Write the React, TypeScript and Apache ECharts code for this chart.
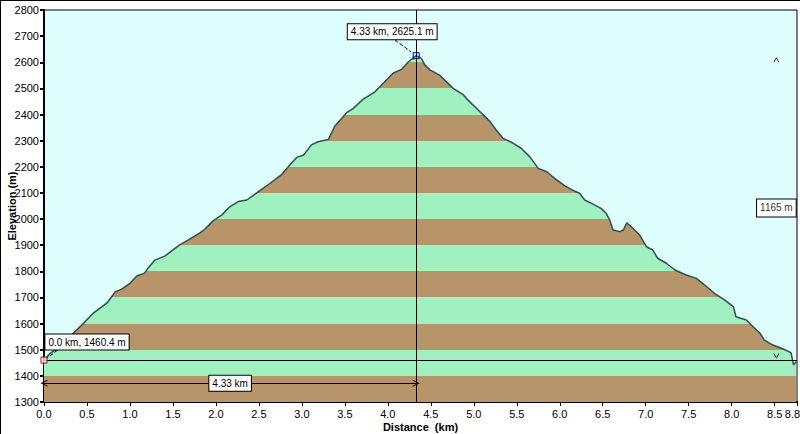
import React, { useEffect, useRef } from 'react';
import * as echarts from 'echarts';

// Distance along the route (km)
const distanceKm = [0, 0.07, 0.19, 0.34, 0.46, 0.57, 0.73, 0.83, 0.9, 1.0, 1.08, 1.17, 1.21, 1.29, 1.41, 1.5, 1.58, 1.68, 1.81, 1.87, 1.97, 2.07, 2.16, 2.26, 2.36, 2.47, 2.63, 2.76, 2.86, 2.94, 3.02, 3.11, 3.19, 3.31, 3.38, 3.52, 3.6, 3.71, 3.85, 3.91, 4.06, 4.16, 4.24, 4.29, 4.33, 4.39, 4.43, 4.49, 4.6, 4.68, 4.76, 4.88, 4.93, 5.03, 5.13, 5.19, 5.26, 5.34, 5.46, 5.55, 5.65, 5.75, 5.85, 5.94, 6.06, 6.15, 6.23, 6.29, 6.37, 6.48, 6.54, 6.58, 6.62, 6.7, 6.74, 6.78, 6.85, 6.93, 7.01, 7.08, 7.14, 7.24, 7.34, 7.47, 7.59, 7.71, 7.8, 7.92, 8.02, 8.05, 8.17, 8.25, 8.33, 8.38, 8.48, 8.6, 8.69, 8.72, 8.75];
// Elevation (m)
const elevationM = [1460.4, 1486, 1512, 1563, 1601, 1639, 1678, 1722, 1731, 1754, 1782, 1793, 1812, 1843, 1859, 1882, 1901, 1920, 1946, 1961, 1994, 2016, 2047, 2067, 2073, 2099, 2137, 2169, 2207, 2236, 2245, 2284, 2296, 2305, 2354, 2407, 2424, 2458, 2487, 2507, 2558, 2573, 2602, 2615, 2625.1, 2615, 2590, 2571, 2551, 2526, 2500, 2475, 2456, 2424, 2392, 2373, 2341, 2309, 2290, 2271, 2239, 2194, 2181, 2156, 2127, 2111, 2099, 2073, 2060, 2041, 2022, 1997, 1958, 1952, 1958, 1986, 1965, 1939, 1894, 1882, 1850, 1831, 1805, 1786, 1773, 1741, 1716, 1690, 1665, 1626, 1614, 1588, 1563, 1537, 1518, 1503, 1489, 1442, 1454];

// Elevation bands (m)
const bandEdges = [1300, 1400, 1500, 1600, 1700, 1800, 1900, 2000, 2100, 2200, 2300, 2400, 2500, 2600, 2700, 2800];
const bandColors = ['#B8946A', '#A0F0C0'];

// Annotations
const startPoint = [0, 1460.4];
const peakPoint = [4.33, 2625.1];
const distanceMeasureElev = 1372;
const climbMeasureKm = 8.52;

const X_MAX = 8.76;

const CHEVRON_UP = 'path://M0,10 L5,0 L10,10 L8.6,10 L5,2.8 L1.4,10 Z';
const CHEVRON_DOWN = 'path://M0,0 L5,10 L10,0 L8.6,0 L5,7.2 L1.4,0 Z';

const FONT = 'Liberation Sans';

export default function App() {
  const ref = useRef<HTMLDivElement>(null);

  useEffect(() => {
    if (!ref.current) return;
    const chart = echarts.init(ref.current, undefined, { renderer: 'svg' });

    const pieces = bandEdges.slice(0, -1).map((lo, i) => ({
      gte: lo,
      lt: bandEdges[i + 1],
      color: bandColors[i % 2],
    }));

    const boxLabel = {
      show: true,
      position: 'inside',
      color: '#000',
      fontSize: 10,
      fontFamily: FONT,
      backgroundColor: '#fff',
      borderColor: '#000',
      borderWidth: 1,
      padding: [3, 3, 2, 3],
    };

    const climb = Math.round(peakPoint[1] - startPoint[1]);

    const option: any = {
      animation: false,
      backgroundColor: '#fff',
      textStyle: { fontFamily: FONT },
      grid: {
        left: 43,
        right: 3,
        top: 9,
        bottom: 32,
        containLabel: false,
        outerBoundsMode: 'none',
        show: true,
        backgroundColor: '#DFFFFF',
        borderColor: '#000',
        borderWidth: 1,
      },
      visualMap: {
        type: 'piecewise',
        show: false,
        dimension: 1,
        seriesIndex: 0,
        pieces,
      },
      xAxis: {
        type: 'value',
        min: 0,
        max: X_MAX,
        interval: 0.5,
        name: 'Distance  (km)',
        nameLocation: 'middle',
        nameGap: 19,
        nameMoveOverlap: false,
        nameTextStyle: { color: '#000', fontWeight: 'bold', fontSize: 11, fontFamily: FONT },
        axisLine: { show: true, lineStyle: { color: '#000', width: 2 } },
        axisTick: { show: true, length: 4, lineStyle: { color: '#000', width: 1 } },
        axisLabel: {
          color: '#000',
          fontSize: 11,
          fontFamily: FONT,
          margin: 6,
          showMaxLabel: true,
          hideOverlap: false,
          formatter: (v: number) =>
            v >= X_MAX - 1e-9 ? `{last|${v.toFixed(1)}}` : v.toFixed(1),
          rich: {
            last: { color: '#000', fontSize: 11, fontFamily: FONT, padding: [0, 9, 0, 0] },
          },
        },
        splitLine: { show: false },
      },
      yAxis: {
        type: 'value',
        min: 1300,
        max: 2800,
        interval: 100,
        name: 'Elevation (m)',
        nameLocation: 'middle',
        nameGap: 27,
        nameMoveOverlap: false,
        nameTextStyle: { color: '#000', fontWeight: 'bold', fontSize: 11, fontFamily: FONT },
        axisLine: { show: true, lineStyle: { color: '#000', width: 2 } },
        axisTick: { show: true, length: 4, lineStyle: { color: '#000', width: 2 } },
        axisLabel: {
          color: '#000',
          fontSize: 11,
          fontFamily: FONT,
          margin: 5,
          formatter: (v: number) => String(Math.round(v)),
        },
        splitLine: { show: false },
      },
      series: [
        {
          type: 'line',
          data: distanceKm.map((d, i) => [d, elevationM[i]]),
          showSymbol: false,
          symbol: 'none',
          lineStyle: { color: '#2F4F4F', width: 1.5 },
          areaStyle: { opacity: 1 },
          markLine: {
            silent: true,
            symbol: ['none', 'none'],
            label: { show: false },
            lineStyle: { color: '#000', width: 1, type: 'solid' },
            data: [
              { yAxis: startPoint[1] },
              { xAxis: peakPoint[0] },
              [
                { coord: [0, distanceMeasureElev], symbol: CHEVRON_UP, symbolSize: 7 },
                { coord: [peakPoint[0], distanceMeasureElev], symbol: CHEVRON_UP, symbolSize: 7 },
              ],
              [
                { coord: [4.08, 2686], lineStyle: { type: 'dashed', color: '#000' } },
                { coord: [4.27, 2640] },
              ],
              [
                { coord: [0.16, 1499], lineStyle: { type: 'dashed', color: '#000' } },
                { coord: [0.035, 1468] },
              ],
            ],
          },
          markPoint: {
            z: 10,
            silent: true,
            data: [
              {
                coord: startPoint,
                symbol: 'rect',
                symbolSize: [6, 6],
                itemStyle: { color: 'rgba(255,255,255,0.7)', borderColor: '#C00000', borderWidth: 1 },
                label: {
                  ...boxLabel,
                  offset: [43, -18],
                  formatter: `${startPoint[0].toFixed(1)} km, ${startPoint[1].toFixed(1)} m`,
                },
              },
              {
                coord: peakPoint,
                symbol: 'rect',
                symbolSize: [6, 6],
                itemStyle: { color: 'rgba(0,0,0,0)', borderColor: '#0000A0', borderWidth: 1 },
                label: {
                  ...boxLabel,
                  offset: [-24, -24],
                  formatter: `${peakPoint[0].toFixed(2)} km, ${peakPoint[1].toFixed(1)} m`,
                },
              },
              {
                coord: [peakPoint[0] / 2, distanceMeasureElev],
                symbol: 'rect',
                symbolSize: 1,
                itemStyle: { color: 'rgba(0,0,0,0)' },
                label: { ...boxLabel, formatter: `${peakPoint[0].toFixed(2)} km` },
              },
              {
                coord: [climbMeasureKm, (startPoint[1] + peakPoint[1]) / 2],
                symbol: 'rect',
                symbolSize: 1,
                itemStyle: { color: 'rgba(0,0,0,0)' },
                label: { ...boxLabel, color: '#333', padding: [4, 3, 3, 3], formatter: `${climb} m` },
              },
              {
                coord: [climbMeasureKm, peakPoint[1]],
                symbol: CHEVRON_UP,
                symbolSize: [6, 5],
                symbolOffset: [0, 4],
                itemStyle: { color: '#000' },
                label: { show: false },
              },
              {
                coord: [climbMeasureKm, startPoint[1]],
                symbol: CHEVRON_DOWN,
                symbolSize: [6, 5],
                symbolOffset: [0, -4],
                itemStyle: { color: '#000' },
                label: { show: false },
              },
            ],
          },
        },
      ],
    };

    chart.setOption(option);
    return () => chart.dispose();
  }, []);

  return (
    <div
      style={{
        position: 'fixed',
        left: 0,
        top: 0,
        width: 800,
        height: 434,
        boxSizing: 'border-box',
        borderLeft: '1px solid #000',
        borderTop: '1px solid #000',
        background: '#fff',
      }}
    >
      <div ref={ref} style={{ width: 799, height: 433 }} />
    </div>
  );
}
